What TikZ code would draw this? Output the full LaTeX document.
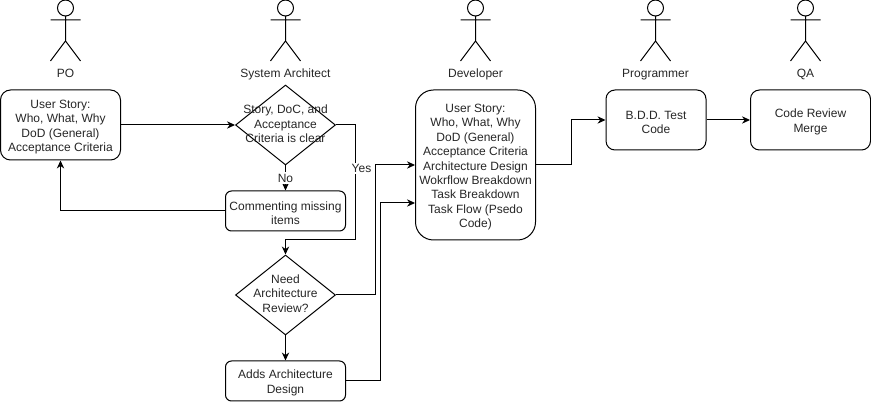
\documentclass[tikz,border=0pt]{standalone}
\usepackage{fontspec}
\setmainfont{Liberation Sans}
\usetikzlibrary{arrows.meta, shapes.geometric}
\newcommand{\topgap}{\rule{0pt}{9.5pt}}
\tikzset{
  card/.style={draw, rectangle, align=center, inner sep=0pt, line width=0.75pt},
  decide/.style={draw, diamond, inner sep=0pt, line width=0.75pt, minimum width=75pt, minimum height=60pt},
  txt/.style={align=center, inner sep=0pt},
  role/.style={anchor=base, inner sep=0pt},
  flow/.style={line width=0.75pt, -{Stealth[length=6pt,width=5.5pt]}},
  edgetxt/.style={fill=white, inner sep=1pt},
  stickman/.pic={
    \draw[line width=0.75pt] (0,8) circle (8)
          (0,16) -- (0,41) (-15,20) -- (15,20)
          (-15,61) -- (0,41) -- (15,61);
  }
}
\begin{document}
\begin{tikzpicture}[x=0.75pt, y=-0.75pt, font=\fontsize{9}{10.8}\selectfont, text=black!85]
                \useasboundingbox (0,0) rectangle (871,402);
                % actors
                \pic at (65.5,0) {stickman};
                \pic at (285.5,0) {stickman};
                \pic at (475.5,0) {stickman};
                \pic at (655.5,0) {stickman};
                \pic at (805.5,0) {stickman};
                \node[role] (po) at (65.5,78) {PO};
                \node[role] (architect) at (285.5,78) {System Architect};
                \node[role] (developer) at (475.5,78) {Developer};
                \node[role] (programmer) at (655.5,78) {Programmer};
                \node[role] (qa) at (805.5,78) {QA};
                % boxes
                \node[card, minimum width=90pt, minimum height=52.5pt, rounded corners=7.5pt] (story) at (60.5,125)
                      {\topgap User Story:\\Who, What, Why\\DoD (General)\\Acceptance Criteria};
                \node[decide] (clear) at (285.5,125) {};
                \node[txt] (cleartxt) at (285.5,124) {Story, DoC, and\\Acceptance\\Criteria is clear};
                \node[card, minimum width=90pt, minimum height=30pt, rounded corners=4.5pt] (comment) at (285.5,211)
                      {\topgap Commenting missing\\items};
                \node[decide] (review) at (285.5,295) {};
                \node[txt] (reviewtxt) at (285.5,293.5) {Need\\Architecture\\Review?};
                \node[card, minimum width=90pt, minimum height=30pt, rounded corners=4.5pt] (design) at (285.5,381)
                      {\topgap Adds Architecture\\Design};
                \node[card, minimum width=90pt, minimum height=112.5pt, rounded corners=13.5pt] (breakdown) at (475.5,165)
                      {\topgap User Story:\\Who, What, Why\\DoD (General)\\Acceptance Criteria\\Architecture Design\\Wokrflow Breakdown\\Task Breakdown\\Task Flow (Psedo\\Code)};
                \node[card, minimum width=75pt, minimum height=45pt, rounded corners=6.75pt] (test) at (656,120)
                      {\topgap B.D.D. Test\\Code};
                \node[card, minimum width=90pt, minimum height=45pt, rounded corners=6.75pt] (merge) at (810.5,120)
                      {\topgap Code Review\\Merge};
                % bends
                \coordinate (yesa) at (355.5,125);
                \coordinate (yesb) at (355.5,240);
                \coordinate (rowa) at (375.5,165);
                \coordinate (rowb) at (380.5,203);
                \coordinate (outa) at (571,165);
                % connectors
                \draw[flow] (story.east) -- (clear.west);
                \draw[flow] (clear.south) -- node[edgetxt] (no) {No} (comment.north);
                \draw[flow] (comment.west) -| (story.south);
                \draw[flow] (clear.east) -- (yesa) -- node[edgetxt, pos=0.375, xshift=4.5pt] (yes) {Yes} (yesb) -| (review.north);
                \draw[flow] (review.east) -| (rowa) -- (breakdown.west);
                \draw[flow] (review.south) -- (design.north);
                \draw[flow] (design.east) -| (rowb) -- (breakdown.west |- rowb);
                \draw[flow] (breakdown.east) -- (outa) |- (test.west);
                \draw[flow] (test.east) -- (merge.west);
\end{tikzpicture}
\end{document}
